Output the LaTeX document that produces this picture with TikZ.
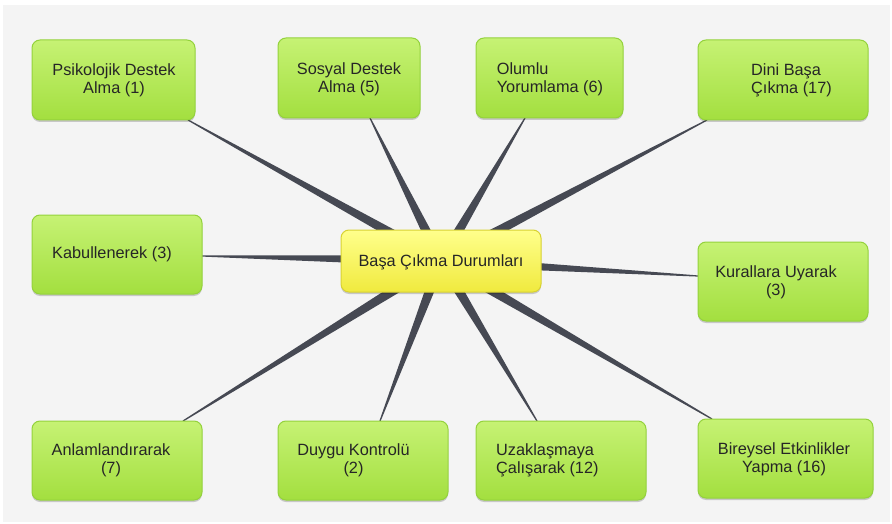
\documentclass[tikz,border=0pt]{standalone}
\usepackage{fontspec}
\setmainfont{Liberation Sans}
\usetikzlibrary{calc,shadows}
\definecolor{bgc}{HTML}{F4F4F4}
\definecolor{gtop}{HTML}{C6F274}
\definecolor{gbot}{HTML}{A3DF3F}
\definecolor{gborder}{HTML}{94D23C}
\definecolor{ytop}{HTML}{FFFF8C}
\definecolor{ybot}{HTML}{F0EA3E}
\definecolor{yborder}{HTML}{D8D232}
\definecolor{wedgec}{HTML}{464953}
\definecolor{txtc}{HTML}{262626}
\newcommand{\spoke}[2]{%
  \fill[wedgec] ($(#2)!5.5pt!90:(#1)$) -- ($(#1)!0.6pt!-90:(#2)$) -- ($(#1)!0.6pt!90:(#2)$) -- ($(#2)!5.5pt!-90:(#1)$) -- cycle;}
\begin{document}
\begin{tikzpicture}[x=1pt,y=-1pt,
  boxbase/.style={rounded corners=8pt, line width=1pt, inner sep=0pt, outer sep=0pt,
    drop shadow={shadow xshift=0pt, shadow yshift=-2pt, opacity=0.18, fill=black}},
  gbox/.style={boxbase, draw=gborder, top color=gtop, bottom color=gbot},
  ybox/.style={boxbase, draw=yborder, top color=ytop, bottom color=ybot},
  txt/.style={font=\fontsize{16.3}{18}\selectfont, text=txtc, inner sep=0pt}]
\useasboundingbox (0,0) rectangle (892,524);
\fill[white] (0,0) rectangle (892,524);
\fill[bgc] (3,5) rectangle (890,522);

% hub and attachment points
\coordinate (hub) at (441,261);
\coordinate (a1) at (188,120);
\coordinate (a2) at (370,118);
\coordinate (a3) at (525,118);
\coordinate (a4) at (707,120);
\coordinate (a5) at (202,256);
\coordinate (a7) at (698,276);
\coordinate (a8) at (183,421);
\coordinate (a9) at (380,421);
\coordinate (a10) at (537,421);
\coordinate (a11) at (712,419);

\spoke{a1}{hub}
\spoke{a2}{hub}
\spoke{a3}{hub}
\spoke{a4}{hub}
\spoke{a5}{hub}
\spoke{a7}{hub}
\spoke{a8}{hub}
\spoke{a9}{hub}
\spoke{a10}{hub}
\spoke{a11}{hub}

% boxes
\node[gbox, minimum width=163pt, minimum height=80pt] (b1) at (113.5,80) {};
\node[gbox, minimum width=142pt, minimum height=80pt] (b2) at (349,78) {};
\node[gbox, minimum width=147pt, minimum height=80pt] (b3) at (549.5,78) {};
\node[gbox, minimum width=170pt, minimum height=80pt] (b4) at (783,80) {};
\node[gbox, minimum width=170pt, minimum height=79pt] (b5) at (117,254.5) {};
\node[ybox, minimum width=200pt, minimum height=62pt] (c) at (441,261) {};
\node[gbox, minimum width=170pt, minimum height=79pt] (b7) at (783,281.5) {};
\node[gbox, minimum width=170pt, minimum height=79pt] (b8) at (117,460.5) {};
\node[gbox, minimum width=170pt, minimum height=79pt] (b9) at (363,460.5) {};
\node[gbox, minimum width=170pt, minimum height=79pt] (b10) at (561,460.5) {};
\node[gbox, minimum width=175pt, minimum height=79pt] (b11) at (785.5,458.5) {};

% texts
\node[txt, align=center] (t1) at (114,80) {Psikolojik Destek\\Alma (1)};
\node[txt, align=center] (t2) at (349,79) {Sosyal Destek\\Alma (5)};
\node[txt, align=left] (t3) at (550,79) {Olumlu\\Yorumlama (6)};
\node[txt, align=left, anchor=west] (t4) at (751,80) {Dini Başa\\Çıkma (17)};
\node[txt, anchor=west] (t5) at (52,254) {Kabullenerek (3)};
\node[txt] (tc) at (441,262) {Başa Çıkma Durumları};
\node[txt, align=center] (t7) at (776,282) {Kurallara Uyarak\\(3)};
\node[txt, align=center] (t8) at (111,460) {Anlamlandırarak\\(7)};
\node[txt, align=center] (t9) at (353.5,460) {Duygu Kontrolü\\(2)};
\node[txt, align=left, anchor=west] (t10) at (496,460) {Uzaklaşmaya\\Çalışarak (12)};
\node[txt, align=center] (t11) at (784,459) {Bireysel Etkinlikler\\Yapma (16)};
\end{tikzpicture}
\end{document}
